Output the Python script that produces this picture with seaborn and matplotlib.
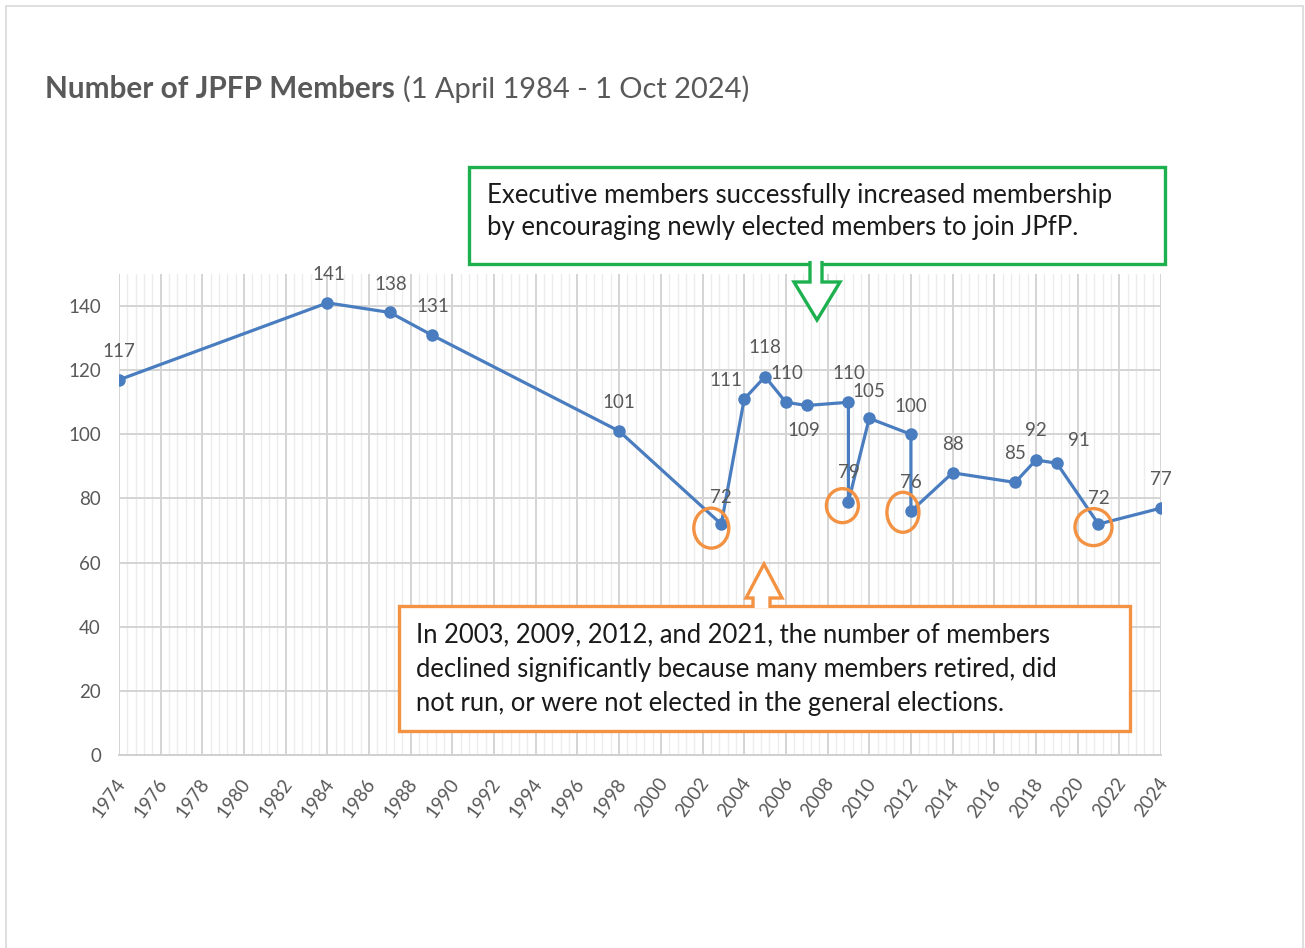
import numpy as np
import pandas as pd
import seaborn as sns
import matplotlib
matplotlib.use("Agg")
import matplotlib.pyplot as plt
from matplotlib.patches import Polygon, Ellipse, Rectangle
from matplotlib.ticker import MultipleLocator
import matplotlib.transforms as mtransforms

# ---------------- data ----------------
years = [1974, 1984, 1987, 1989, 1998, 2002.9, 2004, 2005, 2006, 2007,
         2009, 2009, 2010, 2012, 2012, 2014, 2017, 2018, 2019, 2021, 2024]
members = [117, 141, 138, 131, 101, 72, 111, 118, 110, 109,
           110, 79, 105, 100, 76, 88, 85, 92, 91, 72, 77]
highlight_idx = [5, 11, 14, 19]  # sharp declines (2003, 2009, 2012, 2021)

title_bold = "Number of JPFP Members"
title_rest = "(1 April 1984 - 1 Oct 2024)"
green_text = ["Executive members successfully increased membership",
              "by encouraging newly elected members to join JPfP."]
orange_text = ["In 2003, 2009, 2012, and 2021, the number of members",
               "declined significantly because many members retired, did",
               "not run, or were not elected in the general elections."]

# label offsets in pixels (dx, dy) relative to the point (style only)
label_off = [(0, -28), (1, -28), (1, -28), (1, -28), (0, -29), (0, -27), (-18, -19),
             (0, -29), (1, -29), (-3, 25), (0, -29), (0, -29), (0, -27), (0, -28),
             (0, -29), (0, -28), (0, -29), (0, -29), (22, -23), (0, -26), (0, -29)]
circle_off = [(-10, 4, 35, 40), (-6, 4, 32, 34), (-8, 1, 32, 40), (-5, 3, 37, 37)]

# ---------------- style ----------------
W, H, DPI = 1305, 948, 100
sns.set_theme(style="white")
plt.rcParams['font.family'] = ['Lato', 'DejaVu Sans']
GRAY_TXT = "#595959"
LINE_C = "#4a7dbf"
GREEN = "#1db04f"
ORANGE = "#f39243"

fig = plt.figure(figsize=(W / DPI, H / DPI), dpi=DPI, facecolor="white")
L, R, B, T = 119, 1161, 755, 274
ax = fig.add_axes([L / W, 1 - B / H, (R - L) / W, (B - T) / H])

df = pd.DataFrame({"year": years, "members": members})
sns.lineplot(data=df, x="year", y="members", sort=False, estimator=None,
             color=LINE_C, linewidth=2.3, marker="o", markersize=9,
             markeredgewidth=0, ax=ax, zorder=5)

ax.set_xlim(1974, 2024)
ax.set_ylim(0, 150)
ax.xaxis.set_major_locator(MultipleLocator(2))
ax.xaxis.set_minor_locator(MultipleLocator(0.4))
ax.set_yticks(range(0, 141, 20))
ax.grid(which="major", axis="x", color="#d4d4d4", linewidth=1.4, zorder=0)
ax.grid(which="minor", axis="x", color="#ececec", linewidth=1.0, zorder=0)
ax.grid(which="major", axis="y", color="#d4d4d4", linewidth=1.4, zorder=0)
ax.set_axisbelow(True)
for s in ["top", "right", "left"]:
    ax.spines[s].set_visible(False)
ax.spines["bottom"].set_color("#d0d0d0")
ax.spines["bottom"].set_linewidth(1.4)
ax.set_xlabel("")
ax.set_ylabel("")
ax.tick_params(axis="both", which="both", length=0, colors=GRAY_TXT, labelsize=13.5)
ax.tick_params(axis="y", pad=13)
ax.tick_params(axis="x", pad=18)
ax.set_xticks(range(1974, 2025, 2))
ax.set_xticklabels([str(y) for y in range(1974, 2025, 2)])
shift = mtransforms.ScaledTranslation(3 / DPI, 0, fig.dpi_scale_trans)
for lab in ax.get_xticklabels():
    lab.set_rotation(54)
    lab.set_ha("right")
    lab.set_va("center")
    lab.set_rotation_mode("anchor")
    lab.set_transform(lab.get_transform() + shift)

# data labels
for (x, y), (dx, dy) in zip(zip(years, members), label_off):
    ax.annotate(str(y), (x, y), xytext=(dx * 72 / DPI, -dy * 72 / DPI),
                textcoords="offset points", ha="center", va="center",
                fontsize=13.5, color=GRAY_TXT, zorder=6)

# orange highlight circles around the sharp declines
for i, (dx, dy, w, h) in zip(highlight_idx, circle_off):
    px, py = ax.transData.transform((years[i], members[i]))
    e = Ellipse((px + dx, py - dy), w, h, transform=mtransforms.IdentityTransform(),
                fill=False, edgecolor=ORANGE, linewidth=2.4, zorder=7)
    fig.add_artist(e)

def fx(px):
    return px / W

def fy(py):
    return 1 - py / H

fig.canvas.draw()
rend = fig.canvas.get_renderer()

def fit(t, target_px):
    """scale the font so that the text spans target_px pixels"""
    for _ in range(3):
        w = t.get_window_extent(rend).width
        t.set_fontsize(t.get_fontsize() * target_px / w)
    return t

# outer frame
fig.add_artist(Rectangle((fx(6), fy(960)), fx(1303) - fx(6), fy(6) - fy(960),
                         transform=fig.transFigure, fill=False,
                         edgecolor="#d9d9d9", linewidth=1.2))

# title
t1 = fig.text(fx(45), fy(89), title_bold, fontsize=18.5, fontweight="bold",
              color=GRAY_TXT, va="center", ha="left")
fit(t1, 350)
t2 = fig.text(fx(403), fy(89), title_rest, fontsize=18.5,
              color=GRAY_TXT, va="center", ha="left")
fit(t2, 346)

# green box + arrow
fig.add_artist(Rectangle((fx(469), fy(264)), fx(1165) - fx(469), fy(167) - fy(264),
                         transform=fig.transFigure, facecolor="white",
                         edgecolor=GREEN, linewidth=2.4, zorder=10))
garrow = [(810, 261), (810, 282), (794, 282), (817, 320), (840, 282), (822, 282), (822, 261)]
fig.add_artist(Polygon([(fx(a), fy(b)) for a, b in garrow], closed=False,
                       transform=fig.transFigure, facecolor="white",
                       edgecolor=GREEN, linewidth=2.4, zorder=11))
gt = [fig.text(fx(487), fy(195 + 33 * k), line, fontsize=16, color="#1a1a1a",
               va="center", ha="left", zorder=12) for k, line in enumerate(green_text)]
fit(gt[0], 626)
gt[1].set_fontsize(gt[0].get_fontsize())

# orange box + arrow
fig.add_artist(Rectangle((fx(399), fy(731)), fx(1130) - fx(399), fy(606) - fy(731),
                         transform=fig.transFigure, facecolor="white",
                         edgecolor=ORANGE, linewidth=2.4, zorder=10))
oarrow = [(753, 608), (753, 598), (746, 598), (764, 564), (782, 598), (770, 598), (770, 608)]
fig.add_artist(Polygon([(fx(a), fy(b)) for a, b in oarrow], closed=False,
                       transform=fig.transFigure, facecolor="white",
                       edgecolor=ORANGE, linewidth=2.4, zorder=11))
ot = [fig.text(fx(416), fy(635 + 34 * k), line, fontsize=16, color="#1a1a1a",
               va="center", ha="left", zorder=12) for k, line in enumerate(orange_text)]
fit(ot[0], 634)
for t in ot[1:]:
    t.set_fontsize(ot[0].get_fontsize())

fig.savefig("out.png", dpi=DPI, facecolor="white")
